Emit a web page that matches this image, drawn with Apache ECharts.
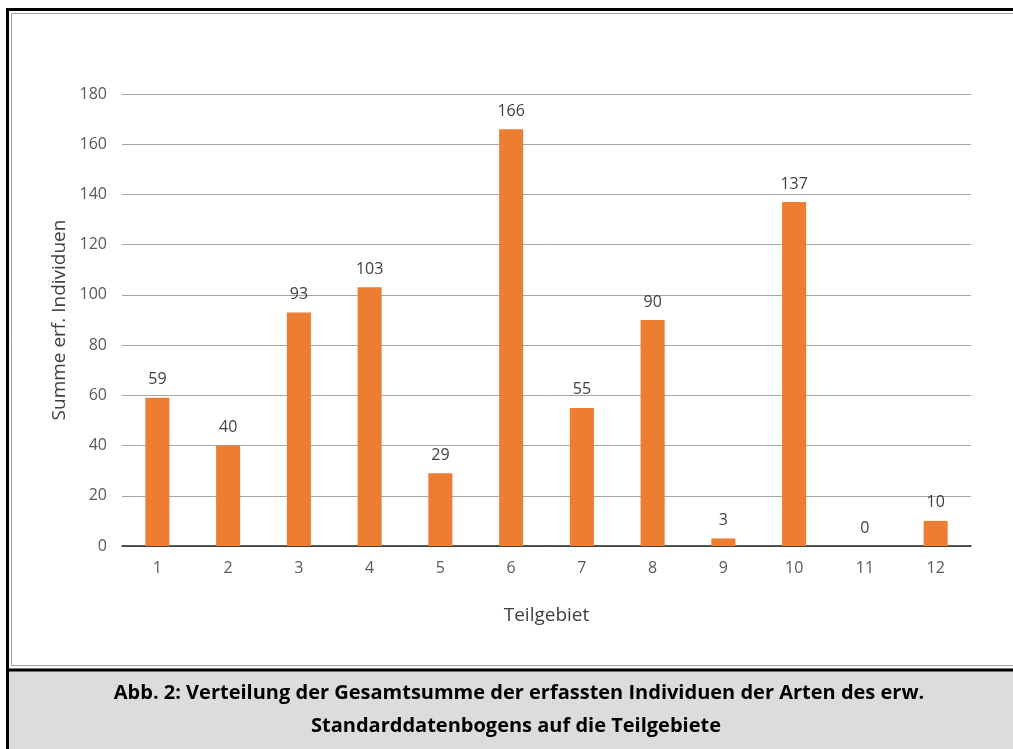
<!DOCTYPE html>
<html>
<head>
<meta charset="utf-8">
<script src="https://cdn.jsdelivr.net/npm/echarts@6/dist/echarts.min.js"></script>
<style>
html,body{margin:0;padding:0;background:#fff;}
#c{width:1013px;height:749px;}
</style>
</head>
<body>
<div id="c"></div>
<script>
var categories = ['1','2','3','4','5','6','7','8','9','10','11','12'];
var values = [59, 40, 93, 103, 29, 166, 55, 90, 3, 137, 0, 10];
var yTicks = [0, 20, 40, 60, 80, 100, 120, 140, 160, 180];
var yAxisTitle = 'Summe erf. Individuen';
var xAxisTitle = 'Teilgebiet';
var captionLines = ['Abb. 2: Verteilung der Gesamtsumme der erfassten Individuen der Arten des erw.', 'Standarddatenbogens auf die Teilgebiete'];

var chart = echarts.init(document.getElementById('c'), null, {renderer: 'canvas'});
var font = 'Open Sans';
chart.setOption({
  animation: false,
  backgroundColor: '#fff',
  textStyle: {fontFamily: font},
  graphic: [
    {type: 'rect', z: -10, silent: true, shape: {x: 7, y: 670, width: 1020, height: 90}, style: {fill: '#dcdcdc'}},
    {type: 'rect', z: -9, silent: true, shape: {x: 11.5, y: 13.5, width: 1020, height: 652}, style: {fill: 'none', stroke: '#a0a0a0', lineWidth: 1}},
    {type: 'rect', z: -8, silent: true, shape: {x: 7.5, y: 9.5, width: 1020, height: 760}, style: {fill: 'none', stroke: '#000', lineWidth: 3}},
    {type: 'line', z: -8, silent: true, shape: {x1: 7, y1: 670, x2: 1020, y2: 670}, style: {stroke: '#000', lineWidth: 3}},
    {type: 'text', silent: true, x: 519, y: 693, style: {text: captionLines[0], font: 'bold 20px "Open Sans"', fill: '#000', align: 'center', verticalAlign: 'middle'}},
    {type: 'text', silent: true, x: 516, y: 726, style: {text: captionLines[1], font: 'bold 20px "Open Sans"', fill: '#000', align: 'center', verticalAlign: 'middle'}}
  ],
  grid: {left: 122, right: 42, top: 94, bottom: 203, containLabel: false},
  xAxis: {
    type: 'category',
    data: categories,
    name: xAxisTitle,
    nameLocation: 'middle',
    nameGap: 60,
    nameTextStyle: {color: '#404040', fontSize: 19, fontFamily: font},
    axisLine: {lineStyle: {color: '#262626', width: 1.5}},
    axisTick: {show: false},
    axisLabel: {color: '#595959', fontSize: 16, margin: 14, fontFamily: font}
  },
  yAxis: {
    type: 'value',
    min: yTicks[0],
    max: yTicks[yTicks.length - 1],
    interval: 20,
    name: yAxisTitle,
    nameLocation: 'middle',
    nameRotate: 90,
    nameGap: 50,
    nameTextStyle: {color: '#404040', fontSize: 19, fontFamily: font},
    axisLine: {show: false},
    axisTick: {show: false},
    splitLine: {lineStyle: {color: '#a6a6a6', width: 1}},
    axisLabel: {color: '#595959', fontSize: 16, margin: 15, fontFamily: font}
  },
  series: [{
    type: 'bar',
    data: values,
    barWidth: '34%',
    itemStyle: {color: '#ED7D31'},
    label: {show: true, position: 'top', distance: 10, color: '#404040', fontSize: 16, fontFamily: font}
  }]
});
</script>
</body>
</html>
